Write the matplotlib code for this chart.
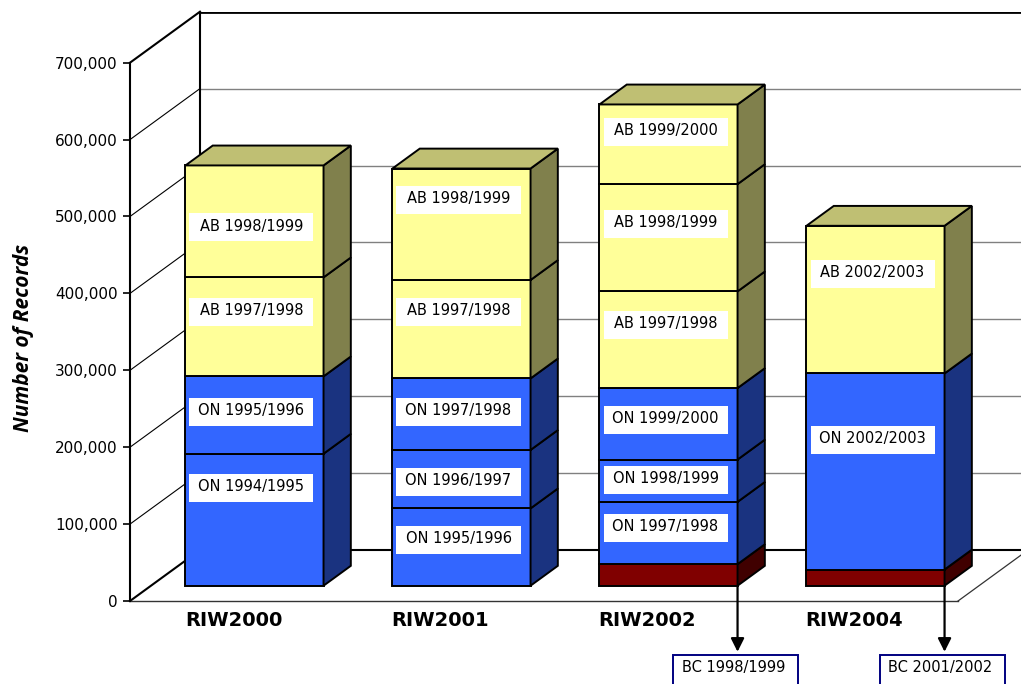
import matplotlib
matplotlib.use("Agg")
import matplotlib.pyplot as plt
from matplotlib.patches import Polygon, Rectangle
from matplotlib.ticker import FuncFormatter

# ---------------- data ----------------
categories = ["RIW2000", "RIW2001", "RIW2002", "RIW2004"]

seg_labels = [
    ["ON 1994/1995", "ON 1995/1996", "AB 1997/1998", "AB 1998/1999"],
    ["ON 1995/1996", "ON 1996/1997", "ON 1997/1998", "AB 1997/1998", "AB 1998/1999"],
    ["BC 1998/1999", "ON 1997/1998", "ON 1998/1999", "ON 1999/2000",
     "AB 1997/1998", "AB 1998/1999", "AB 1999/2000"],
    ["BC 2001/2002", "ON 2002/2003", "AB 2002/2003"],
]
seg_values = [
    [171600, 100600, 128700, 145600],
    [100500, 76000, 93000, 128000, 145000],
    [28000, 81000, 55000, 93000, 125700, 139500, 103600],
    [21000, 255000, 192000],
]
y_ticks = [0, 100000, 200000, 300000, 400000, 500000, 600000, 700000]

# ---------------- layout (label placement, not data) ----------------
label_y = [
    [147000, 245800, 375800, 485700],
    [79300, 154700, 245800, 375800, 521500],
    [None, 94900, 157300, 235400, 358900, 490200, 610300],
    [None, 209400, 425600],
]

# ---------------- styles ----------------
front_col = {"ON": "#3366FF", "AB": "#FFFF99", "BC": "#800000"}
side_col = {"ON": "#1A3380", "AB": "#80804C", "BC": "#400000"}
top_col = {"ON": "#2650BF", "AB": "#BFBF73", "BC": "#600000"}

DX = 0.338          # depth offset (category units)
DY = 66300          # depth offset (value units)
D1 = 0.30           # bar front plane depth
DD = 0.39           # bar depth
W = 0.667           # bar width
EDGE_LW = 1.4

fig = plt.figure(figsize=(10.21, 6.84), dpi=100)
ax = fig.add_axes([130 / 1021, 83 / 684, 898 / 1021, 589.3 / 684])
ax.set_xlim(-0.5, 3.5 + DX)
ax.set_ylim(0, y_ticks[-1] + DY)

# ---------------- walls / floor ----------------
x_left, x_right = -0.5, len(categories) - 0.5
for v in y_ticks:
    if v == 0:
        c, lw = "black", 1.5
    elif v == y_ticks[-1]:
        c, lw = "black", 2.0
    else:
        c, lw = "#808080", 1.0
    ax.plot([x_left + DX, x_right + DX], [v + DY, v + DY], color=c, lw=lw, zorder=1,
            solid_capstyle="butt")
    ax.plot([x_left, x_left + DX], [v, v + DY], color="black",
            lw=1.5 if v in (0, y_ticks[-1]) else 0.8, zorder=1, clip_on=False)
ax.plot([x_left + DX, x_left + DX], [DY, y_ticks[-1] + DY], color="black", lw=1.5, zorder=1)
ax.plot([x_left, x_right], [0, 0], color="#333333", lw=1.0, zorder=1, clip_on=False)
ax.plot([x_right, x_right + DX], [0, DY], color="#333333", lw=0.9, zorder=1, clip_on=False)

# ---------------- bars ----------------
for i, (labs, vals) in enumerate(zip(seg_labels, seg_values)):
    xc = i + D1 * DX
    xl, xr = xc - W / 2, xc + W / 2
    cum = D1 * DY
    for lab, val in zip(labs, vals):
        key = lab.split()[0]
        ax.bar(xc, val, bottom=cum, width=W, color=front_col[key],
               edgecolor="black", linewidth=EDGE_LW, zorder=3)
        side = [(xr, cum), (xr + DD * DX, cum + DD * DY),
                (xr + DD * DX, cum + val + DD * DY), (xr, cum + val)]
        ax.add_patch(Polygon(side, closed=True, facecolor=side_col[key],
                             edgecolor="black", linewidth=EDGE_LW, zorder=3))
        cum += val
    top = [(xl, cum), (xr, cum), (xr + DD * DX, cum + DD * DY), (xl + DD * DX, cum + DD * DY)]
    ax.add_patch(Polygon(top, closed=True, facecolor=top_col[key],
                         edgecolor="black", linewidth=EDGE_LW, zorder=3))

# ---------------- in-bar labels ----------------
BOX_W = 124 / 207
BOX_H = 28 / 76.9 * 100000
for i, (labs, ys) in enumerate(zip(seg_labels, label_y)):
    xc = i + D1 * DX - 3 / 207
    for lab, yy in zip(labs, ys):
        if yy is None:
            continue
        ax.add_patch(Rectangle((xc - BOX_W / 2, yy - BOX_H / 2), BOX_W, BOX_H,
                               facecolor="white", edgecolor="none", zorder=4))
        ax.text(xc, yy + 1500, lab, ha="center", va="center", fontsize=10.5,
                color="black", zorder=5)

# ---------------- BC callouts ----------------
for i, (labs, vals) in enumerate(zip(seg_labels, seg_values)):
    if labs[0].startswith("BC"):
        xr = i + D1 * DX + W / 2
        y0 = D1 * DY
        ax.annotate("", xy=(xr, -66000), xytext=(xr, y0),
                    arrowprops=dict(arrowstyle="-|>", color="black", lw=1.6,
                                    mutation_scale=20, shrinkA=0, shrinkB=0),
                    annotation_clip=False, zorder=6)
        bw = 125 / 207
        ax.add_patch(Rectangle((xr - 2 / 207 - bw / 2, -130000), bw, 60000,
                               facecolor="white", edgecolor="#000080", linewidth=1.4,
                               clip_on=False, zorder=6))
        ax.text(xr - 4 / 207, -86500, labs[0], ha="center", va="center",
                fontsize=10.5, color="black", clip_on=False, zorder=7)

# ---------------- axes styling ----------------
for s in ["top", "right", "bottom"]:
    ax.spines[s].set_visible(False)
ax.spines["left"].set_bounds(0, y_ticks[-1])
ax.spines["left"].set_linewidth(1.5)
ax.set_yticks(y_ticks)
ax.yaxis.set_major_formatter(FuncFormatter(lambda v, p: f"{int(v):,}"))
ax.tick_params(axis="y", direction="out", length=5, width=1.2, pad=4, labelsize=11)
ax.set_xticks([])

for i, c in enumerate(categories):
    ax.text(i, -25000, c, ha="center", va="center", fontsize=14, fontweight="bold",
            clip_on=False)

fig.text(24 / 1021, 1 - 338 / 684, "Number of Records", rotation=90, ha="center",
         va="center", fontsize=15, fontweight="bold", style="italic",
         family=["Open Sans", "DejaVu Sans"])

fig.savefig("out.png", dpi=100)
